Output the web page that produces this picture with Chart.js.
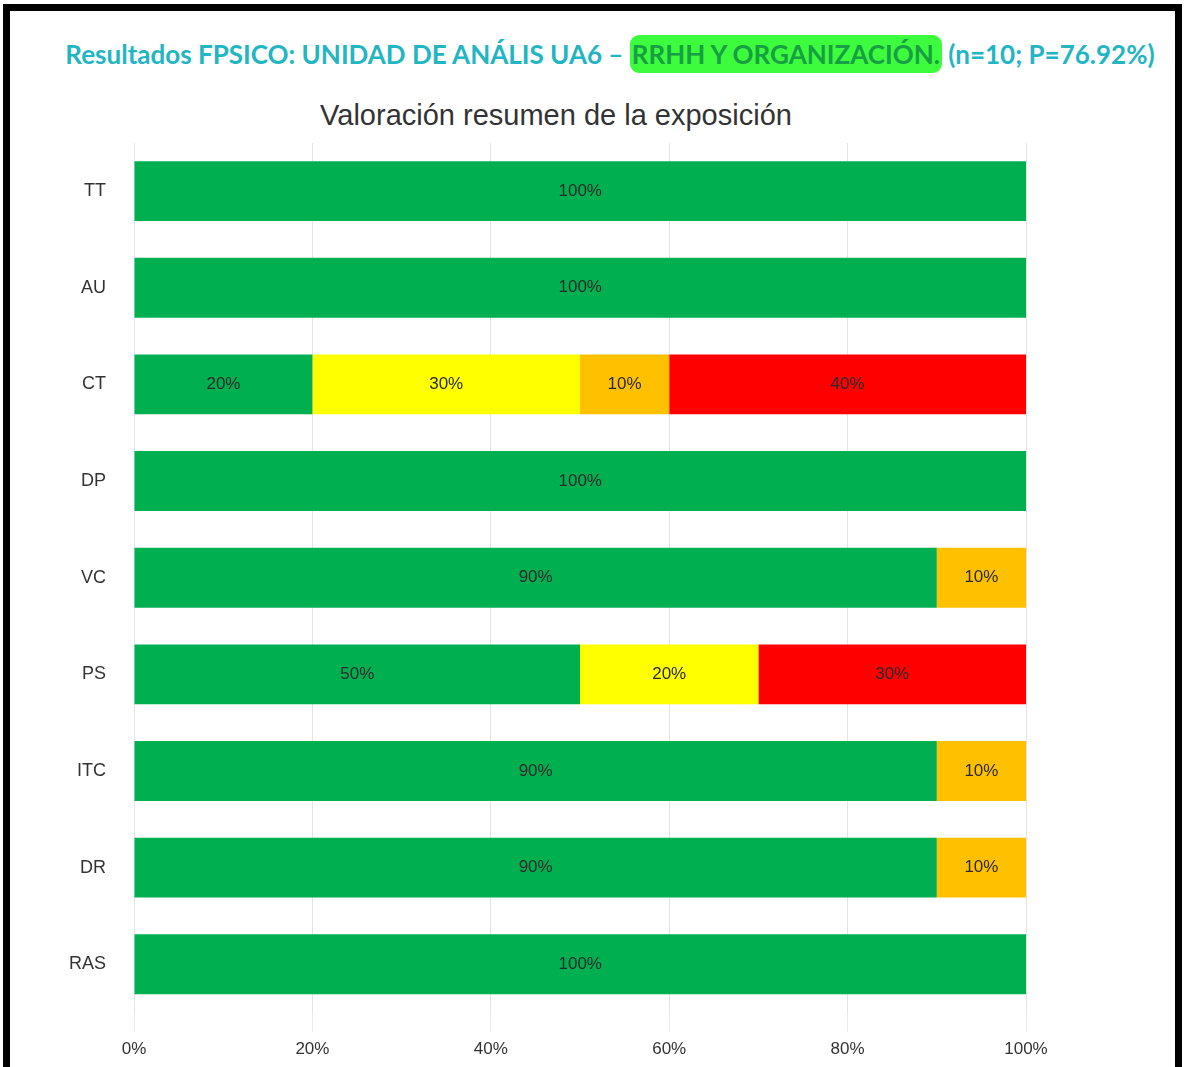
<!DOCTYPE html>
<html>
<head>
<meta charset="utf-8">
<script src="https://cdn.jsdelivr.net/npm/chart.js@4"></script>
<style>
  body { margin: 0; background: #fff; width: 1185px; height: 1067px; overflow: hidden; position: relative; }
  #frame { position: absolute; left: 3px; top: 4px; width: 1165px; height: 1060px; border: 7px solid #000; border-bottom-width: 4px; }
  #head { position: absolute; left: 0; top: 38px; width: 1220px; text-align: center; font-family: "Lato", sans-serif; font-weight: bold; font-size: 26px; color: #22b5c2; white-space: nowrap; }
  #head .hl { background: #3dfb3d; color: #17a043; border-radius: 9px; padding: 3px 2px; }
  #titulo { position: absolute; left: 0; top: 98px; width: 1112px; text-align: center; font-family: "Liberation Sans", Arial, sans-serif; font-size: 29px; line-height: 34px; color: #333; }
  #wrap { position: absolute; left: 0; top: 112px; width: 1112px; height: 958px; }
</style>
</head>
<body>
<div id="frame"></div>
<div id="head">Resultados FPSICO: UNIDAD DE ANÁLIS UA6 – <span class="hl">RRHH Y ORGANIZACIÓN.</span> (n=10; P=76.92%)</div>
<div id="titulo">Valoración resumen de la exposición</div>
<div id="wrap"><canvas id="chart"></canvas></div>
<script>
// factores evaluados
const categorias = ['TT', 'AU', 'CT', 'DP', 'VC', 'PS', 'ITC', 'DR', 'RAS'];

// porcentaje de trabajadores por nivel de riesgo
const adecuado = [100, 100, 20, 100, 90, 50, 90, 90, 100];
const moderado = [0, 0, 30, 0, 0, 20, 0, 0, 0];
const elevado = [0, 0, 10, 0, 10, 0, 10, 10, 0];
const muyElevado = [0, 0, 40, 0, 0, 30, 0, 0, 0];

const ticksX = [0, 20, 40, 60, 80, 100];

// etiquetas dentro de cada barra
const etiquetasBarras = {
    id: 'etiquetasBarras',
    afterDatasetsDraw(chart) {
        const ctx = chart.ctx;
        ctx.save();
        ctx.font = '17px "Liberation Sans", Arial, sans-serif';
        ctx.fillStyle = '#2a2a2a';
        ctx.textAlign = 'center';
        ctx.textBaseline = 'middle';
        chart.data.datasets.forEach((ds, i) => {
            chart.getDatasetMeta(i).data.forEach((bar, j) => {
                const v = ds.data[j];
                if (!v) return;
                const x = (bar.x + bar.base) / 2;
                ctx.fillText(v + '%', x, bar.y);
            });
        });
        ctx.restore();
    }
};

const serie = (label, data, color) => ({
    label: label,
    data: data,
    backgroundColor: color,
    borderWidth: 0,
    barPercentage: 0.62,
    categoryPercentage: 1
});

new Chart(document.getElementById('chart'), {
    type: 'bar',
    data: {
        labels: categorias,
        datasets: [
            serie('Situación adecuada', adecuado, '#00b050'),
            serie('Riesgo moderado', moderado, '#ffff00'),
            serie('Riesgo elevado', elevado, '#ffc000'),
            serie('Riesgo muy elevado', muyElevado, '#ff0000')
        ]
    },
    options: {
        indexAxis: 'y',
        responsive: true,
        maintainAspectRatio: false,
        animation: false,
        layout: { padding: { left: 0, right: 86, top: 12, bottom: 3 } },
        plugins: {
            legend: { display: false },
            tooltip: { enabled: false },
            title: { display: false }
        },
        scales: {
            x: {
                stacked: true,
                min: 0,
                max: 100,
                afterBuildTicks: (s) => { s.ticks = ticksX.map(v => ({ value: v })); },
                grid: { color: '#e3e3e3', tickLength: 20, tickColor: '#ececec' },
                border: { display: false },
                ticks: {
                    padding: 7,
                    color: '#333',
                    font: { family: '"Liberation Sans", Arial, sans-serif', size: 17 },
                    callback: (v) => v + '%'
                }
            },
            y: {
                stacked: true,
                afterFit: (s) => { s.width = 134; },
                grid: { display: false },
                border: { display: false },
                ticks: {
                    padding: 20,
                    color: '#333',
                    font: { family: '"Liberation Sans", Arial, sans-serif', size: 18 }
                }
            }
        }
    },
    plugins: [etiquetasBarras]
});
</script>
</body>
</html>
